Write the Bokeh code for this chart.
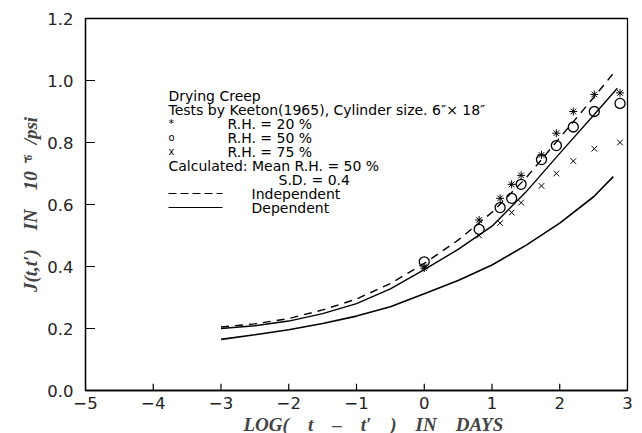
import math
from bokeh.plotting import figure
from bokeh.models import Label, FixedTicker, Range1d, Title, NumeralTickFormatter
from bokeh.embed import file_html
from bokeh.resources import INLINE

# ---- data ----
log_t = [0.0, 0.81, 1.12, 1.29, 1.43, 1.73, 1.95, 2.20, 2.51, 2.89]
rh20 = [0.395, 0.55, 0.62, 0.665, 0.694, 0.76, 0.83, 0.90, 0.955, 0.96]
rh50 = [0.415, 0.52, 0.59, 0.62, 0.665, 0.745, 0.79, 0.85, 0.90, 0.926]
rh75 = [0.40, 0.50, 0.54, 0.574, 0.606, 0.66, 0.70, 0.74, 0.78, 0.80]

curve_x = [-3.0, -2.5, -2.0, -1.5, -1.0, -0.5, 0.0, 0.5, 1.0, 1.5, 2.0, 2.5]
indep = [0.205, 0.215, 0.232, 0.260, 0.295, 0.345, 0.410, 0.485, 0.575, 0.685, 0.815, 0.945]
dep = [0.200, 0.209, 0.224, 0.248, 0.280, 0.328, 0.390, 0.455, 0.530, 0.640, 0.765, 0.888]
lower = [0.165, 0.180, 0.196, 0.216, 0.240, 0.270, 0.312, 0.355, 0.405, 0.468, 0.540, 0.625]
indep_end = (2.78, 1.02)
dep_end = (2.85, 0.975)
lower_end = (2.79, 0.69)

x_ticks = [-5, -4, -3, -2, -1, 0, 1, 2, 3]
y_ticks = [0.0, 0.2, 0.4, 0.6, 0.8, 1.0, 1.2]

p = figure(frame_width=542, frame_height=372, output_backend="svg",
           toolbar_location=None, x_range=Range1d(-5, 3), y_range=Range1d(0, 1.2),
           min_border_left=85, min_border_right=15, min_border_top=18, min_border_bottom=8)
p.xgrid.visible = False
p.ygrid.visible = False
p.outline_line_color = "black"
p.outline_line_width = 1.3
p.outline_line_alpha = 1.0

for ax in (p.xaxis[0], p.yaxis[0]):
    ax.axis_line_color = "black"
    ax.axis_line_width = 1.3
    ax.major_tick_in = 0
    ax.major_tick_out = 0
    ax.minor_tick_in = 0
    ax.minor_tick_out = 0
    ax.major_label_text_font = "DejaVu Sans"
    ax.major_label_text_font_size = "16.5px"
    ax.major_label_text_color = "#222222"
p.xaxis[0].ticker = FixedTicker(ticks=x_ticks)
p.yaxis[0].ticker = FixedTicker(ticks=y_ticks)
p.yaxis[0].formatter = NumeralTickFormatter(format="0.0")
p.xaxis[0].major_label_standoff = 6
p.yaxis[0].major_label_standoff = 12

# inward tick marks drawn from the tick arrays
p.segment(x0=x_ticks, y0=[0.0] * len(x_ticks), x1=x_ticks, y1=[0.022] * len(x_ticks),
          line_color="black", line_width=1.2)
p.segment(x0=[-5.0] * len(y_ticks), y0=y_ticks, x1=[-4.86] * len(y_ticks), y1=y_ticks,
          line_color="black", line_width=1.2)

sp = "\u00a0\u00a0\u00a0\u00a0"
p.yaxis[0].axis_label = "J(t,t\u2032)" + sp + "IN" + sp + "10" + "\u00a0\u207b\u2076" + "\u00a0\u00a0/psi"
p.yaxis[0].axis_label_text_font = "Liberation Serif"
p.yaxis[0].axis_label_text_font_style = "bold italic"
p.yaxis[0].axis_label_text_font_size = "19px"
p.yaxis[0].axis_label_standoff = 3

p.add_layout(Title(text="LOG(" + sp + "t" + sp + "\u2013" + sp + "t\u2032" + sp + ")" + sp + "IN" + sp + "DAYS",
                   align="left", offset=158, text_font="Liberation Serif",
                   text_font_style="bold italic", text_font_size="19px",
                   standoff=0), "below")

# curves
p.line(curve_x + [indep_end[0]], indep + [indep_end[1]], line_color="black",
       line_width=1.4, line_dash="8 6")
p.line(curve_x + [dep_end[0]], dep + [dep_end[1]], line_color="black", line_width=1.4)
p.line(curve_x + [lower_end[0]], lower + [lower_end[1]], line_color="black", line_width=1.6)

# test points
p.scatter(log_t, rh20, marker="asterisk", size=8, line_color="black", line_width=1.0)
p.scatter(log_t, rh50, marker="circle", size=10, fill_color=None, line_color="black", line_width=1.3)
p.scatter(log_t, rh75, marker="x", size=8, line_color="black", line_width=1.0)

# helpers for placing annotation text by pixel-like positions
def dx(px):
    return -5 + (px - 85) / 67.75

def dy(py):
    return (390 - py) / 310

def lab(text, px, py, size="14px", font="DejaVu Sans", style="normal",
        align="left", angle=0.0):
    p.add_layout(Label(x=dx(px), y=dy(py), text=text, text_font=font,
                       text_font_size=size, text_font_style=style,
                       text_align=align, text_baseline="middle", angle=angle,
                       text_color="black"))

rows = [95, 109, 123, 137, 151, 165, 179, 193, 207]
lab("Drying Creep", 168, rows[0])
lab("Tests by Keeton(1965), Cylinder size. 6\u2033\u00d7 18\u2033", 168, rows[1])
lab("*", 168, rows[2], size="11px")
lab("R.H. = 20 %", 227, rows[2])
lab("o", 168, rows[3], size="10px")
lab("R.H. = 50 %", 227, rows[3])
lab("x", 168, rows[4], size="10px")
lab("R.H. = 75 %", 227, rows[4])
lab("Calculated: Mean R.H. = 50 %", 168, rows[5])
lab("S.D. = 0.4", 278, rows[6])
lab("Independent", 251, rows[7])
lab("Dependent", 251, rows[8])
p.line([dx(168), dx(222)], [dy(rows[7]), dy(rows[7])], line_color="black",
       line_width=1.2, line_dash="8 4")
p.line([dx(168), dx(222)], [dy(rows[8]), dy(rows[8])], line_color="black", line_width=1.2)

open("out.html", "w").write(file_html(p, INLINE))
